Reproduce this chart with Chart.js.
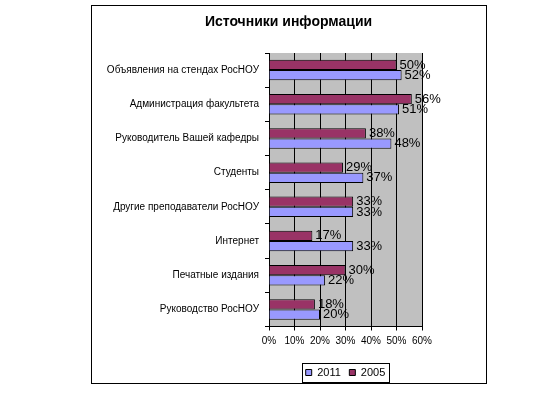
<!DOCTYPE html>
<html>
<head>
<meta charset="utf-8">
<script src="https://cdn.jsdelivr.net/npm/chart.js@4/dist/chart.umd.min.js"></script>
<style>
  html, body { margin: 0; padding: 0; background: #fff; }
  canvas { display: block; }
</style>
</head>
<body>
<canvas id="chart" width="536" height="396"></canvas>
<script>
const categories = [
  "Объявления на стендах РосНОУ",
  "Администрация факультета",
  "Руководитель Вашей кафедры",
  "Студенты",
  "Другие преподаватели РосНОУ",
  "Интернет",
  "Печатные издания",
  "Руководство РосНОУ"
];
const values2005 = [50, 56, 38, 29, 33, 17, 30, 18];
const values2011 = [52, 51, 48, 37, 33, 33, 22, 20];
const xTicks = [0, 10, 20, 30, 40, 50, 60];

const FONT = "'Liberation Sans', Arial, sans-serif";
Chart.defaults.color = "#000";
Chart.defaults.font.family = FONT;

// gray plot area, outer frame, legend frame, moving title/legend
const decor = {
  id: "decor",
  beforeDraw(chart) {
    const ctx = chart.ctx;
    const a = chart.chartArea;
    ctx.save();
    ctx.fillStyle = "#c0c0c0";
    ctx.fillRect(a.left, a.top, a.right - a.left, a.bottom - a.top);
    ctx.strokeStyle = "#000";
    ctx.lineWidth = 1;
    ctx.strokeRect(91.5, 5.5, 395, 378);
    ctx.restore();

    const t = chart.titleBlock;
    t.left = 91; t.right = 486; t.width = 395;
    const lg = chart.legend;
    lg.left = a.left; lg.right = a.right; lg.width = a.right - a.left;
  },
  afterDraw(chart) {
    const lg = chart.legend;
    const p = lg.options.labels.padding;
    const W = lg.lineWidths[0];
    const x0 = (lg.left + p + lg.right - W) / 2;
    const ctx = chart.ctx;
    ctx.save();
    ctx.strokeStyle = "#000";
    ctx.lineWidth = 1;
    ctx.strokeRect(Math.round(x0 - 4) + 0.5, Math.round(lg.top) + 4.5, Math.round(W - p + 7), 19);
    ctx.restore();
  }
};

const barLabels = {
  id: "barLabels",
  afterDatasetsDraw(chart) {
    const ctx = chart.ctx;
    ctx.save();
    ctx.font = "13px " + FONT;
    ctx.fillStyle = "#000";
    ctx.textAlign = "left";
    ctx.textBaseline = "middle";
    chart.data.datasets.forEach((ds, i) => {
      chart.getDatasetMeta(i).data.forEach((bar, j) => {
        ctx.fillText(ds.data[j] + "%", bar.x + 3, bar.y);
      });
    });
    ctx.restore();
  }
};

new Chart(document.getElementById("chart"), {
  type: "bar",
  data: {
    labels: categories,
    datasets: [
      {
        label: "2005",
        data: values2005,
        backgroundColor: "#993366",
        borderColor: "#000",
        borderWidth: 1
      },
      {
        label: "2011",
        data: values2011,
        backgroundColor: "#9999ff",
        borderColor: "#000",
        borderWidth: 1
      }
    ]
  },
  options: {
    indexAxis: "y",
    responsive: false,
    animation: false,
    datasets: {
      bar: { categoryPercentage: 0.6, barPercentage: 1 }
    },
    layout: { padding: { left: 91, right: 114, top: 5, bottom: 8 } },
    scales: {
      x: {
        min: 0,
        max: 60,
        afterFit: scale => { scale.height = 32; },
        afterBuildTicks: scale => { scale.ticks = xTicks.map(v => ({ value: v })); },
        ticks: {
          callback: v => v + "%",
          font: { size: 10 },
          padding: 5,
          maxRotation: 0,
          minRotation: 0,
          autoSkip: false,
          color: "#000"
        },
        grid: { color: "#000", tickLength: 4, lineWidth: 1 },
        border: { color: "#000", width: 1 }
      },
      y: {
        afterFit: scale => { scale.width = 178; },
        ticks: { font: { size: 10 }, padding: 6, autoSkip: false, color: "#000" },
        grid: { offset: true, drawOnChartArea: false, color: "#000", tickLength: 4 },
        border: { color: "#000", width: 1 }
      }
    },
    plugins: {
      title: {
        display: true,
        text: "Источники информации",
        font: { size: 14, weight: "bold", lineHeight: 1 },
        color: "#000",
        padding: { top: 10, bottom: 24 }
      },
      legend: {
        position: "bottom",
        reverse: true,
        labels: {
          boxWidth: 6,
          boxHeight: 6,
          padding: 8.5,
          font: { size: 11 },
          color: "#000"
        }
      },
      tooltip: { enabled: false }
    }
  },
  plugins: [decor, barLabels]
});
</script>
</body>
</html>
